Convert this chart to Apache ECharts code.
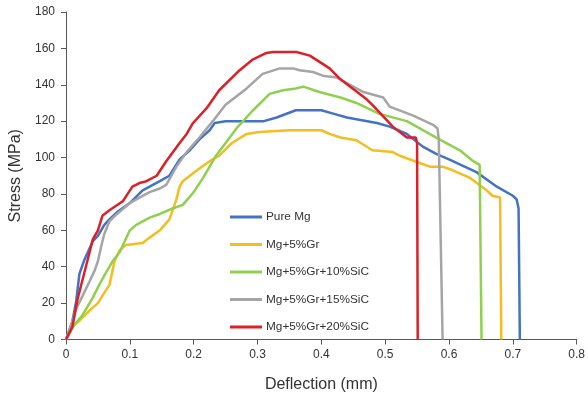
<!DOCTYPE html>
<html>
<head>
<meta charset="utf-8">
<script src="https://cdn.jsdelivr.net/npm/echarts@6/dist/echarts.min.js"></script>
<style>html,body{margin:0;padding:0;background:#fff}#c{width:588px;height:399px}</style>
</head>
<body>
<div id="c"></div>
<script>
const seriesNames = ['Pure Mg', 'Mg+5%Gr', 'Mg+5%Gr+10%SiC', 'Mg+5%Gr+15%SiC', 'Mg+5%Gr+20%SiC'];
const pureMg = [[0,0],[0.01,10],[0.016,21],[0.021,36],[0.029,44],[0.042,54],[0.05,57],[0.06,63],[0.068,66],[0.08,70],[0.1,75],[0.12,82],[0.147,87],[0.162,90],[0.178,99],[0.194,104],[0.209,110],[0.225,115],[0.233,119],[0.25,120],[0.31,120],[0.33,122],[0.36,126],[0.4,126],[0.42,124],[0.44,122],[0.487,119],[0.507,117],[0.534,113],[0.559,106],[0.58,102],[0.6,99],[0.643,92],[0.675,84],[0.7,79],[0.706,77],[0.709,72],[0.711,0]];
const mgGr = [[0,0],[0.01,7],[0.02,10],[0.037,16],[0.05,20],[0.057,24],[0.068,30],[0.073,38],[0.076,43],[0.084,49],[0.094,52],[0.12,53],[0.131,56],[0.147,60],[0.162,66],[0.167,71],[0.173,77],[0.178,84],[0.183,87],[0.194,90],[0.209,94],[0.225,98],[0.24,101],[0.26,108],[0.283,113],[0.303,114],[0.35,115],[0.4,115],[0.413,113],[0.43,111],[0.455,109.5],[0.48,104],[0.512,103],[0.523,101],[0.554,97],[0.57,95],[0.59,95],[0.606,93],[0.632,89],[0.659,82],[0.668,79],[0.68,78],[0.682,0]];
const mgGr10 = [[0,0],[0.013,8],[0.026,13.5],[0.042,23],[0.052,30],[0.063,37],[0.073,43],[0.084,48],[0.1,60],[0.11,63],[0.131,67],[0.147,69],[0.167,72],[0.183,74],[0.2,81],[0.215,89],[0.225,95],[0.235,101],[0.25,108],[0.267,116],[0.293,126],[0.319,135],[0.34,137],[0.36,138],[0.372,139],[0.397,136],[0.43,133],[0.455,130],[0.491,124],[0.534,120],[0.58,111],[0.617,104],[0.638,98],[0.648,96],[0.651,0]];
const mgGr15 = [[0,0],[0.01,10],[0.016,17],[0.026,24],[0.037,32],[0.045,38],[0.05,43],[0.055,51],[0.06,58],[0.068,65],[0.08,69],[0.1,75],[0.115,78],[0.131,81],[0.147,83],[0.157,85],[0.173,95],[0.189,103],[0.209,111],[0.23,120],[0.25,129],[0.283,138],[0.308,146],[0.335,149],[0.356,149],[0.366,148],[0.387,147],[0.402,145],[0.424,144],[0.466,136],[0.497,133],[0.507,128],[0.544,123],[0.575,118],[0.582,116],[0.584,110],[0.59,0]];
const mgGr20 = [[0,0],[0.003,2],[0.01,7],[0.018,22],[0.026,33],[0.034,44],[0.042,55],[0.05,60],[0.057,68],[0.068,71],[0.089,76],[0.104,84],[0.115,86],[0.126,87],[0.142,90],[0.157,98],[0.178,108],[0.189,113],[0.199,119],[0.22,127],[0.24,137],[0.272,148],[0.293,154],[0.314,157.5],[0.324,158],[0.361,158],[0.382,156],[0.413,149],[0.43,143],[0.471,132],[0.48,129],[0.512,117],[0.534,111],[0.548,111],[0.55,108],[0.551,0]];
const allData = [pureMg, mgGr, mgGr10, mgGr15, mgGr20];
const colors = ['#4472C4', '#F5BD1F', '#8FD14F', '#A5A5A5', '#DD2027'];

const font = 'Liberation Sans, Arial, sans-serif';
const chart = echarts.init(document.getElementById('c'), null, {renderer: 'canvas'});
chart.setOption({
  animation: false,
  backgroundColor: '#fff',
  color: colors,
  grid: {left: 66, right: 11, top: 12, bottom: 59.5, containLabel: false},
  legend: {
    orient: 'vertical', left: 225, top: 205,
    icon: 'rect', itemWidth: 32, itemHeight: 3, itemGap: 13.5,
    textStyle: {fontFamily: font, fontSize: 11.8, color: '#333', lineHeight: 14, padding: [0,0,0,-1]},
    data: seriesNames
  },
  xAxis: {
    type: 'value', min: 0, max: 0.8, interval: 0.1,
    name: 'Deflection (mm)', nameLocation: 'middle', nameGap: 37,
    nameTextStyle: {fontFamily: font, fontSize: 16, color: '#333'},
    axisLine: {show: true, lineStyle: {color: '#595959', width: 1}},
    axisTick: {show: true, length: 5, lineStyle: {color: '#595959'}},
    axisLabel: {fontFamily: font, fontSize: 12, color: '#333', margin: 9},
    splitLine: {show: false}
  },
  yAxis: {
    type: 'value', min: 0, max: 180, interval: 20,
    name: 'Stress (MPa)', nameLocation: 'middle', nameGap: 37, nameRotate: 90,
    nameTextStyle: {fontFamily: font, fontSize: 16, color: '#333'},
    axisLine: {show: true, lineStyle: {color: '#595959', width: 1}},
    axisTick: {show: true, length: 5, lineStyle: {color: '#595959'}},
    axisLabel: {fontFamily: font, fontSize: 12, color: '#333', margin: 11},
    splitLine: {show: false}
  },
  series: seriesNames.map((n, i) => ({
    name: n, type: 'line', data: allData[i], showSymbol: false, symbol: 'none',
    lineStyle: {width: 2.5, color: colors[i]}, smooth: false, z: 2 + i
  }))
});
</script>
</body>
</html>
